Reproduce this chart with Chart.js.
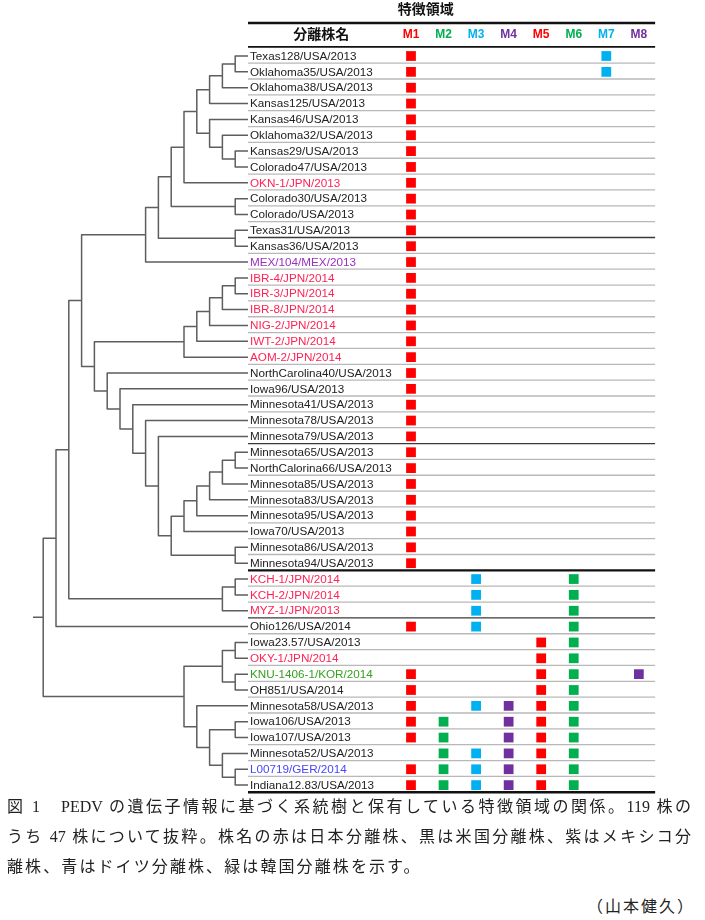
<!DOCTYPE html>
<html lang="ja">
<head>
<meta charset="utf-8">
<script src="https://cdn.jsdelivr.net/npm/chart.js@4.4.1/dist/chart.umd.min.js"></script>
<style>
  body { margin: 0; background: #fff; width: 705px; height: 920px; position: relative; overflow: hidden; }
  #wrap { position: absolute; left: 0; top: 0; width: 705px; height: 800px; }
  .cap { position: absolute; left: 7px; top: 792px; width: 684px; color: #222;
         font-family: "Liberation Serif", "Noto Sans CJK JP", serif; font-size: 16px; }
  .cap div { height: 30px; line-height: 30px; white-space: nowrap; }
  .cap .j { text-align: justify; text-align-last: justify; }
  .cap .l { letter-spacing: 2.1px; }
  .author { position: absolute; right: 10px; top: 893px; color: #222; letter-spacing: 2px;
            font-family: "Liberation Serif", "Noto Sans CJK JP", serif; font-size: 16px; }
</style>
</head>
<body>
<div id="wrap"><canvas id="tree" width="705" height="800"></canvas></div>
<div class="cap">
  <div class="j">図 1　PEDV の遺伝子情報に基づく系統樹と保有している特徴領域の関係。119 株の</div>
  <div class="j">うち 47 株について抜粋。株名の赤は日本分離株、黒は米国分離株、紫はメキシコ分</div>
  <div class="l">離株、青はドイツ分離株、緑は韓国分離株を示す。</div>
</div>
<div class="author">（山本健久）</div>
<script>
// strain names, top to bottom
const strains = [
  'Texas128/USA/2013', 'Oklahoma35/USA/2013', 'Oklahoma38/USA/2013', 'Kansas125/USA/2013',
  'Kansas46/USA/2013', 'Oklahoma32/USA/2013', 'Kansas29/USA/2013', 'Colorado47/USA/2013',
  'OKN-1/JPN/2013', 'Colorado30/USA/2013', 'Colorado/USA/2013', 'Texas31/USA/2013',
  'Kansas36/USA/2013', 'MEX/104/MEX/2013', 'IBR-4/JPN/2014', 'IBR-3/JPN/2014',
  'IBR-8/JPN/2014', 'NIG-2/JPN/2014', 'IWT-2/JPN/2014', 'AOM-2/JPN/2014',
  'NorthCarolina40/USA/2013', 'Iowa96/USA/2013', 'Minnesota41/USA/2013', 'Minnesota78/USA/2013',
  'Minnesota79/USA/2013', 'Minnesota65/USA/2013', 'NorthCalorina66/USA/2013', 'Minnesota85/USA/2013',
  'Minnesota83/USA/2013', 'Minnesota95/USA/2013', 'Iowa70/USA/2013', 'Minnesota86/USA/2013',
  'Minnesota94/USA/2013', 'KCH-1/JPN/2014', 'KCH-2/JPN/2014', 'MYZ-1/JPN/2013',
  'Ohio126/USA/2014', 'Iowa23.57/USA/2013', 'OKY-1/JPN/2014', 'KNU-1406-1/KOR/2014',
  'OH851/USA/2014', 'Minnesota58/USA/2013', 'Iowa106/USA/2013', 'Iowa107/USA/2013',
  'Minnesota52/USA/2013', 'L00719/GER/2014', 'Indiana12.83/USA/2013'
];

const domains = ['M1', 'M2', 'M3', 'M4', 'M5', 'M6', 'M7', 'M8'];

// which characteristic domains each strain carries (same order as strains)
const features = [
  [1, 7], [1, 7], [1], [1], [1], [1], [1], [1], [1], [1], [1], [1], [1], [1], [1], [1],
  [1], [1], [1], [1], [1], [1], [1], [1], [1], [1], [1], [1], [1], [1], [1], [1], [1],
  [3, 6], [3, 6], [3, 6], [1, 3, 6],
  [5, 6], [5, 6], [1, 5, 6, 8], [1, 5, 6],
  [1, 3, 4, 5, 6], [1, 2, 4, 5, 6], [1, 2, 4, 5, 6], [2, 3, 4, 5, 6],
  [1, 2, 3, 4, 5, 6], [1, 2, 3, 4, 5, 6]
];

// tree topology (leaf = strain index)
const cladeUSA1 = [[[[[[[0, 1], 2], 3], [4, [5, [6, 7]]]], 8], [9, 10]], [11, 12]];
const cladeMEX = [cladeUSA1, 13];
const cladeJPN = [[[[[14, 15], 16], 17], 18], 19];
const cladeUSA2 = [20, [21, [22, [23, [24, [[[[[[25, 26], 27], 28], 29], 30], [31, 32]]]]]]];
const cladeKCH = [[33, 34], 35];
const cladeSINDEL = [[[37, 38], [39, 40]], [41, [[42, 43], [44, [45, 46]]]]];
const tree = [[[[cladeMEX, [cladeJPN, cladeUSA2]], cladeKCH], 36], cladeSINDEL];

// styles / layout
const domainColors = ['#FF0000', '#00B050', '#00B0F0', '#7030A0', '#FF0000', '#00B050', '#00B0F0', '#7030A0'];
const originColors = { JPN: '#FF2355', USA: '#222222', MEX: '#9B2FC0', GER: '#4646FF', KOR: '#36A020' };
const darkRules = [11, 24, 35];
const heavyRules = [32, 46];
const W = 705, H = 800;
const ROW0 = 56, ROW = 15.85;      // pixel of first row, row pitch
const LEAF = 248, STEP = 12.8;     // pixel of leaf tips, node step
const COL0 = 411, COL = 32.55;     // pixel of M1, column pitch

// tree -> bracket polylines
const treePts = [];
function walk(node) {
  if (typeof node === 'number') return { h: 0, y: node };
  const kids = node.map(walk);
  const h = Math.max(...kids.map(k => k.h)) + 1;
  const a = kids[0], b = kids[kids.length - 1];
  treePts.push({ x: a.h, y: a.y }, { x: h, y: a.y }, { x: h, y: b.y }, { x: b.h, y: b.y }, { x: h, y: null });
  return { h, y: (a.y + b.y) / 2 };
}
const root = walk(tree);
treePts.push({ x: root.h, y: root.y }, { x: root.h + 0.8, y: root.y });

const squareSets = domains.map((d, k) => ({
  type: 'scatter',
  label: d,
  xAxisID: 'xm',
  data: features.flatMap((f, i) => f.includes(k + 1) ? [{ x: k + 1, y: i }] : []),
  pointStyle: 'rect',
  pointRadius: 6.9,
  borderWidth: 0,
  backgroundColor: domainColors[k]
}));

const origin = name => name.split('/').slice(-2)[0];

const tableChrome = {
  id: 'tableChrome',
  beforeDatasetsDraw(chart) {
    const { ctx, scales: { xt, xm, y } } = chart;
    const left = xt.getPixelForValue(0), right = xm.getPixelForValue(domains.length + 0.5);
    const rule = (v, color, w) => {
      const py = y.getPixelForValue(v);
      ctx.beginPath(); ctx.moveTo(left, py); ctx.lineTo(right, py);
      ctx.strokeStyle = color; ctx.lineWidth = w; ctx.stroke();
    };
    ctx.save();
    strains.forEach((s, i) => {
      if (heavyRules.includes(i)) rule(i + 0.45, '#111', 2.4);
      else if (darkRules.includes(i)) rule(i + 0.45, '#3a3a3a', 1.3);
      else rule(i + 0.45, '#b8b8b8', 1.3);
    });
    rule(-2.08, '#111', 2.4);
    rule(-0.57, '#111', 1.8);
    ctx.restore();
  },
  afterDatasetsDraw(chart) {
    const { ctx, scales: { xt, xm, y } } = chart;
    const left = xt.getPixelForValue(0);
    ctx.save();
    ctx.textBaseline = 'middle';
    ctx.font = '11.7px Arial, "Liberation Sans", sans-serif';
    ctx.textAlign = 'left';
    strains.forEach((s, i) => {
      ctx.fillStyle = originColors[origin(s)];
      ctx.fillText(s, left + 2, y.getPixelForValue(i) + 0.5);
    });
    ctx.font = 'bold 12px Arial, "Liberation Sans", sans-serif';
    ctx.textAlign = 'center';
    domains.forEach((d, k) => {
      ctx.fillStyle = domainColors[k];
      ctx.fillText(d, xm.getPixelForValue(k + 1), y.getPixelForValue(-1.32));
    });
    ctx.fillStyle = '#111';
    ctx.font = 'bold 14px "Noto Sans CJK JP", sans-serif';
    ctx.fillText('分離株名', (left + xm.getPixelForValue(0.5)) / 2, y.getPixelForValue(-1.4));
    ctx.fillText('特徴領域', xm.getPixelForValue(1.45), y.getPixelForValue(-3.0));
    ctx.restore();
  }
};

new Chart(document.getElementById('tree'), {
  type: 'scatter',
  data: {
    datasets: [{
      type: 'line',
      label: 'tree',
      xAxisID: 'xt',
      data: treePts,
      borderColor: '#5e5e5e',
      borderWidth: 1.5,
      pointRadius: 0,
      spanGaps: false,
      borderJoinStyle: 'round',
      fill: false
    }, ...squareSets]
  },
  options: {
    responsive: false,
    animation: false,
    events: [],
    layout: { padding: 0, autoPadding: false },
    plugins: { legend: { display: false }, tooltip: { enabled: false } },
    scales: {
      xt: { type: 'linear', display: false, reverse: true, bounds: 'data',
            max: LEAF / STEP, min: LEAF / STEP - W / STEP },
      xm: { type: 'linear', display: false, bounds: 'data',
            min: 1 - COL0 / COL, max: 1 - COL0 / COL + W / COL },
      y: { type: 'linear', display: false, reverse: true, bounds: 'data',
           min: -ROW0 / ROW, max: (H - ROW0) / ROW }
    }
  },
  plugins: [tableChrome]
});
</script>
</body>
</html>
